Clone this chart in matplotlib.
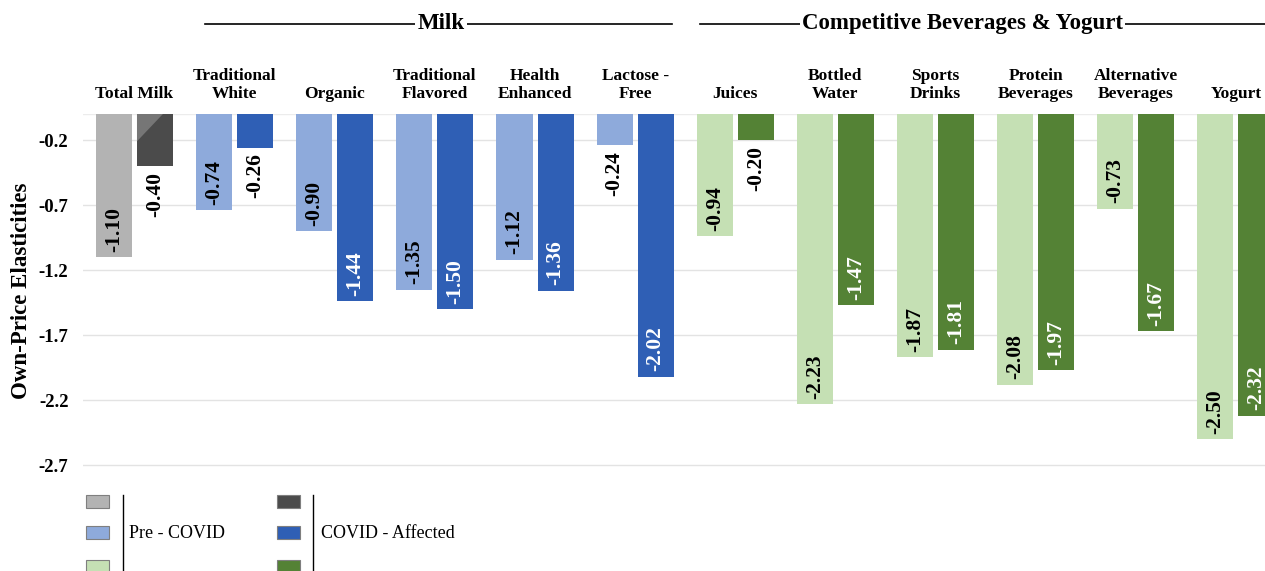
import matplotlib.pyplot as plt
import numpy as np
from matplotlib.patches import Rectangle, Polygon
from matplotlib.lines import Line2D
import matplotlib.transforms as mtransforms

plt.rcParams['font.family'] = ['Liberation Serif', 'DejaVu Serif']

# data
categories = ["Total Milk", "Traditional\nWhite", "Organic", "Traditional\nFlavored",
              "Health\nEnhanced", "Lactose -\nFree", "Juices", "Bottled\nWater",
              "Sports\nDrinks", "Protein\nBeverages", "Alternative\nBeverages", "Yogurt"]
pre_covid = [-1.10, -0.74, -0.90, -1.35, -1.12, -0.24,
             -0.94, -2.23, -1.87, -2.08, -0.73, -2.50]
covid_affected = [-0.40, -0.26, -1.44, -1.50, -1.36, -2.02,
                  -0.20, -1.47, -1.81, -1.97, -1.67, -2.32]
groups = ["total", "milk", "milk", "milk", "milk", "milk",
          "comp", "comp", "comp", "comp", "comp", "comp"]
y_ticks = [-0.2, -0.7, -1.2, -1.7, -2.2, -2.7]

light = {"total": "#b3b3b3", "milk": "#8eaadb", "comp": "#c5e0b4"}
dark = {"total": "#4b4b4b", "milk": "#2f5fb5", "comp": "#548235"}

fig = plt.figure(figsize=(12.65, 5.71), dpi=100)
ax = fig.add_axes([83 / 1265, 1 - 468 / 571, 1 - 83 / 1265, 354 / 571])

x = np.arange(len(categories))
w = 0.36
off = 0.205

bars_pre = ax.bar(x - off, pre_covid, w, color=[light[g] for g in groups], zorder=2)
bars_cov = ax.bar(x + off, covid_affected, w, color=[dark[g] for g in groups], zorder=2)

# lighter corner on the dark grey bar
b = bars_cov[0]
bx = b.get_x()
ax.add_patch(Polygon([[bx, 0], [bx + b.get_width() * 0.72, 0], [bx, -0.21]],
                     closed=True, facecolor="#767676", edgecolor="none", zorder=3))

# value labels
def label_bars(bars, vals, inside_color):
    for bar, v in zip(bars, vals):
        xc = bar.get_x() + bar.get_width() / 2
        if abs(v) > 0.5:
            ax.annotate(f"{v:.2f}", (xc, v), xytext=(0, 4), textcoords="offset points",
                        rotation=90, ha="center", va="bottom", fontsize=15.5,
                        fontweight="bold", color=inside_color, zorder=4)
        else:
            ax.annotate(f"{v:.2f}", (xc, v), xytext=(0, -4), textcoords="offset points",
                        rotation=90, ha="center", va="top", fontsize=15.5,
                        fontweight="bold", color="black", zorder=4)

label_bars(bars_pre, pre_covid, "black")
label_bars(bars_cov, covid_affected, "white")

ax.set_xlim(-0.514, 11.29)
ax.set_ylim(-2.72, 0)
ax.set_yticks(y_ticks)
ax.set_yticklabels([f"{t:.1f}" for t in y_ticks], fontsize=13.5, fontweight="bold")
ax.tick_params(axis="y", length=0, pad=10.5)
ax.set_xticks([])
ax.grid(axis="y", color="#e3e3e3", linewidth=1, zorder=0)
ax.axhline(0, color="#ececec", linewidth=1, zorder=0)
for s in ax.spines.values():
    s.set_visible(False)
ax.set_ylabel("Own-Price Elasticities", fontsize=16.5, fontweight="bold")
ax.yaxis.set_label_coords(-0.043, 0.5)

# category labels above the bars
trans = mtransforms.blended_transform_factory(ax.transData, ax.transAxes)
for xi, name in zip(x, categories):
    ax.text(xi, 1.035, name, transform=trans, ha="center", va="bottom",
            multialignment="center", fontsize=12.5, fontweight="bold", linespacing=1.12)

# group headers
def header(text, x0, x1, xt):
    ax.add_line(Line2D([x0, x1], [1.255, 1.255], transform=trans, color="black",
                       linewidth=1.2, clip_on=False))
    ax.text(xt, 1.255, text, transform=trans, ha="center", va="center", fontsize=16.5,
            fontweight="bold", bbox=dict(facecolor="white", edgecolor="none", pad=1.5))

header("Milk", 0.7, 5.37, 3.06)
header("Competitive Beverages & Yogurt", 5.65, 11.3, 8.27)

# legend drawn manually
legend_rows = [(495, "total"), (526, "milk"), (560, "comp")]
for col_x, cmap, line_x, label, text_x in [(86, light, 123, "Pre - COVID", 129),
                                          (277, dark, 313, "COVID - Affected", 321)]:
    for ytop, g in legend_rows:
        fig.patches.append(Rectangle((col_x / 1265, 1 - (ytop + 13) / 571), 23 / 1265, 13 / 571,
                                     transform=fig.transFigure, facecolor=cmap[g],
                                     edgecolor="#7f7f7f", linewidth=0.8))
    fig.lines.append(Line2D([line_x / 1265, line_x / 1265], [1 - 495 / 571, 0],
                            transform=fig.transFigure, color="black", linewidth=1))
    fig.text(text_x / 1265, 1 - 533 / 571, label, ha="left", va="center", fontsize=13)

fig.savefig("out.png", dpi=100)
